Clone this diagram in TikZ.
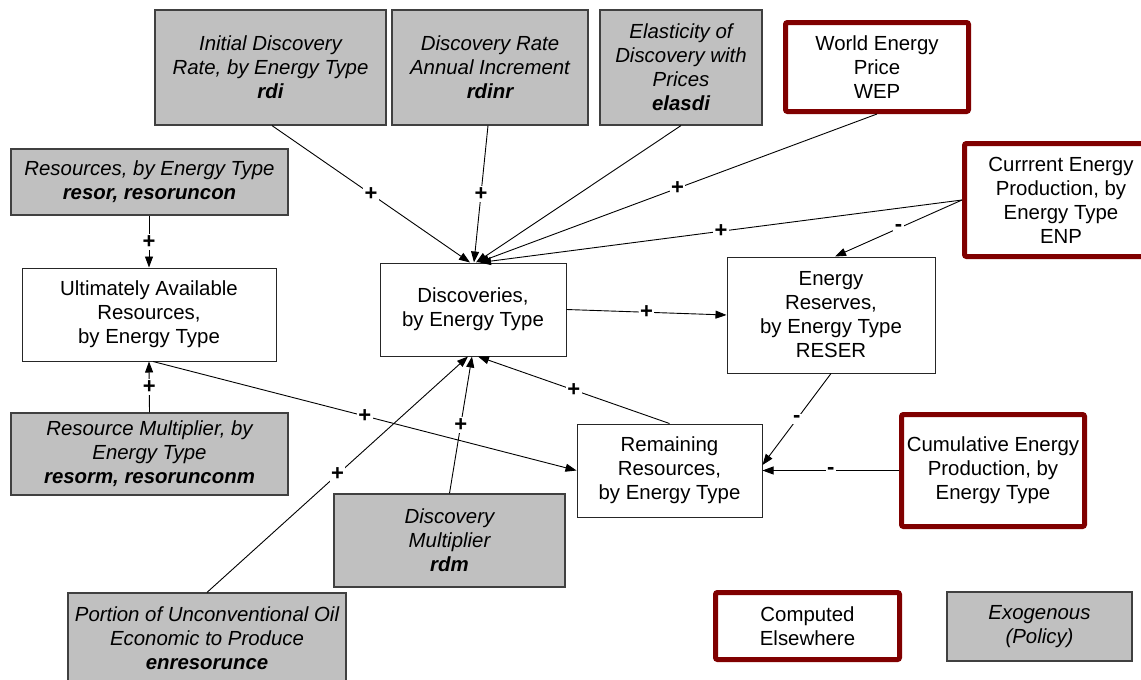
\documentclass[tikz,border=0pt]{standalone}
\usepackage{fontspec}
\setmainfont{Liberation Sans}
\usetikzlibrary{arrows.meta}
\definecolor{redb}{RGB}{128,0,0}
\definecolor{grayf}{RGB}{192,192,192}
\definecolor{grayd}{RGB}{64,64,64}
\begin{document}
\begin{tikzpicture}[x=1pt,y=-1pt,
  every node/.style={font=\fontsize{20.4}{24}\selectfont, align=center, inner sep=2pt},
  exobox/.style={draw=grayd, fill=grayf, line width=1.2pt, font=\fontsize{20.4}{24}\selectfont\itshape},
  wbox/.style={draw=black!85, fill=white, line width=1pt},
  rbox/.style={draw=redb, fill=white, line width=5pt, rounded corners=2pt},
  conn/.style={draw=black, line width=0.9pt, -{Triangle[length=11pt,width=8pt]}},
  sgn/.style={fill=white, font=\fontsize{22}{24}\selectfont\bfseries, inner sep=1.5pt}
]
\clip (0,0) rectangle (1141,680);
\fill[white] (0,0) rectangle (1141,680);
% exogenous boxes
\node[exobox, minimum width=231pt, minimum height=115pt] (rdi) at (270.5,67.5) {Initial Discovery\\Rate, by Energy Type\\{\bfseries rdi}};
\node[exobox, minimum width=196pt, minimum height=115pt] (rdinr) at (490,67.5) {Discovery Rate\\Annual Increment\\{\bfseries rdinr}};
\node[exobox, minimum width=162pt, minimum height=115pt] (elasdi) at (681,67.5) {Elasticity of\\Discovery with\\Prices\\{\bfseries elasdi}};
\node[exobox, minimum width=277pt, minimum height=66pt] (resor) at (149.5,182) {Resources, by Energy Type\\{\bfseries resor, resoruncon}};
\node[exobox, minimum width=277pt, minimum height=82pt] (resorm) at (149.5,454) {Resource Multiplier, by\\Energy Type\\{\bfseries resorm, resorunconm}};
\node[exobox, minimum width=231pt, minimum height=93pt] (rdm) at (449.5,540.5) {Discovery\\Multiplier\\{\bfseries rdm}};
\node[exobox, minimum width=278pt, minimum height=90pt] (enres) at (207,638) {Portion of Unconventional Oil\\Economic to Produce\\{\bfseries enresorunce}};
\node[exobox, minimum width=185pt, minimum height=69pt] (exo) at (1039.5,626.5) {Exogenous\\(Policy)};
% computed boxes
\node[wbox, minimum width=254pt, minimum height=93pt] (ult) at (149,314.5) {Ultimately Available\\Resources,\\by Energy Type};
\node[wbox, minimum width=186pt, minimum height=93pt] (disc) at (473,309.5) {Discoveries,\\by Energy Type};
\node[wbox, minimum width=208pt, minimum height=116pt] (reser) at (831,315) {Energy\\Reserves,\\by Energy Type\\RESER};
\node[wbox, minimum width=185pt, minimum height=93pt] (rem) at (669.5,470.5) {Remaining\\Resources,\\by Energy Type};
% computed elsewhere
\node[rbox, minimum width=183pt, minimum height=89pt] (wep) at (877,67) {World Energy\\Price\\WEP};
\node[rbox, minimum width=193pt, minimum height=113pt] (enp) at (1061,200) {Currrent Energy\\Production, by\\Energy Type\\ENP};
\node[rbox, minimum width=183pt, minimum height=112pt] (cum) at (993,470.5) {Cumulative Energy\\Production, by\\Energy Type};
\node[rbox, minimum width=184pt, minimum height=67pt] (comp) at (807.5,626) {Computed\\Elsewhere};
% connectors
\draw[conn] ([xshift=1.5pt]rdi.south) -- node[sgn]{+} ([xshift=-3pt]disc.north);
\draw[conn] ([xshift=-2pt]rdinr.south) -- node[sgn]{+} ([xshift=1pt]disc.north);
\draw[conn] (elasdi.south) -- ([xshift=3pt]disc.north);
\draw[conn] (wep.south) -- node[sgn]{+} ([xshift=5pt]disc.north);
\draw[conn] (enp.west) -- node[sgn]{+} ([xshift=7pt]disc.north);
\draw[conn] (enp.west) -- node[sgn]{-} ([xshift=4pt]reser.north);
\draw[conn] (disc.east) -- node[sgn]{+} (reser.west);
\draw[conn] (resor.south -| ult.north) -- node[sgn]{+} (ult.north);
\draw[conn] (resorm.north) -- node[sgn]{+} (ult.south);
\draw[conn] ([xshift=4pt]ult.south) -- node[sgn]{+} (rem.west);
\draw[conn] (enres.north) -- node[sgn]{+} ([xshift=-5pt]disc.south);
\draw[conn] (rdm.north) -- node[sgn]{+} ([xshift=-1pt]disc.south);
\draw[conn] (rem.north) -- node[sgn]{+} ([xshift=5pt]disc.south);
\draw[conn] (reser.south) -- node[sgn]{-} ([yshift=5.5pt]rem.east);
\draw[conn] (cum.west) -- node[sgn]{-} (rem.east);
\end{tikzpicture}
\end{document}
